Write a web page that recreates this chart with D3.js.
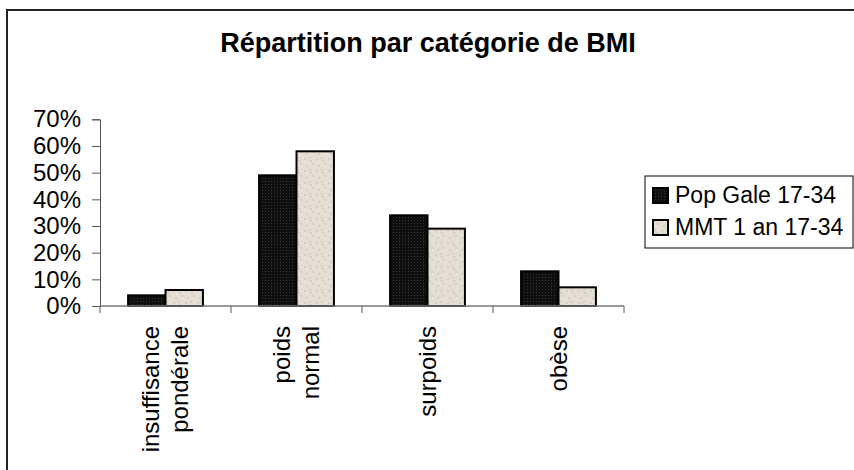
<!DOCTYPE html>
<html>
<head>
<meta charset="utf-8">
<script src="https://cdn.jsdelivr.net/npm/d3@7"></script>
<style>
  body { margin: 0; background: #fff; }
  svg { display: block; font-family: "Liberation Sans", Arial, sans-serif; }
</style>
</head>
<body>
<div id="container"></div>
<script>
// data
var categories = ["insuffisance\npondérale", "poids\nnormal", "surpoids", "obèse"];
var seriesNames = ["Pop Gale 17-34", "MMT 1 an 17-34"];
var popGale = [0.04, 0.49, 0.34, 0.13];
var mmt = [0.06, 0.58, 0.29, 0.07];
var yTicks = [0, 0.1, 0.2, 0.3, 0.4, 0.5, 0.6, 0.7];
var title = "Répartition par catégorie de BMI";

var width = 854, height = 470;
var plot = {left: 100, right: 624, top: 119.3, bottom: 306};

var svg = d3.select("#container").append("svg")
    .attr("width", width)
    .attr("height", height);

// textures for the two series
var defs = svg.append("defs");
var pDark = defs.append("pattern")
    .attr("id", "texDark")
    .attr("patternUnits", "userSpaceOnUse")
    .attr("width", 3).attr("height", 3);
pDark.append("rect").attr("width", 3).attr("height", 3).attr("fill", "#0e0e0e");
pDark.append("rect").attr("x", 1).attr("y", 1).attr("width", 1).attr("height", 1).attr("fill", "#363636");

var pLight = defs.append("pattern")
    .attr("id", "texLight")
    .attr("patternUnits", "userSpaceOnUse")
    .attr("width", 12).attr("height", 12);
pLight.append("rect").attr("width", 12).attr("height", 12).attr("fill", "#e4ded4");
[[1, 2], [6, 1], [9, 7], [3, 9], [7, 4]].forEach(function(p) {
    pLight.append("rect").attr("x", p[0]).attr("y", p[1])
        .attr("width", 2).attr("height", 2).attr("fill", "#d5cdc0");
});
[[4, 6], [10, 10]].forEach(function(p) {
    pLight.append("rect").attr("x", p[0]).attr("y", p[1])
        .attr("width", 1).attr("height", 1).attr("fill", "#f1ede6");
});

// outer chart border (runs off the right and bottom)
svg.append("rect")
    .attr("x", 7).attr("y", 10)
    .attr("width", 900).attr("height", 500)
    .attr("fill", "none")
    .attr("stroke", "#222")
    .attr("stroke-width", 2);

// title
svg.append("text")
    .attr("x", 428).attr("y", 52)
    .attr("text-anchor", "middle")
    .attr("font-size", 27)
    .attr("font-weight", "bold")
    .text(title);

// scales
var x0 = d3.scaleBand()
    .domain(categories)
    .range([plot.left, plot.right])
    .paddingInner(0).paddingOuter(0);

var x1 = d3.scaleBand()
    .domain(seriesNames)
    .range([0, x0.bandwidth()])
    .paddingInner(0).paddingOuter(0.75);

var yScale = d3.scaleLinear()
    .domain([0, 0.7])
    .range([plot.bottom, plot.top]);

var fills = {"Pop Gale 17-34": "url(#texDark)", "MMT 1 an 17-34": "url(#texLight)"};

var rows = categories.map(function(c, i) {
    return {cat: c, vals: [
        {s: seriesNames[0], v: popGale[i]},
        {s: seriesNames[1], v: mmt[i]}
    ]};
});

// bars
var groups = svg.selectAll(".grp")
    .data(rows)
    .enter().append("g")
    .attr("class", "grp")
    .attr("transform", function(d) { return "translate(" + x0(d.cat) + ",0)"; });

groups.selectAll("rect")
    .data(function(d) { return d.vals; })
    .enter().append("rect")
    .attr("x", function(d) { return x1(d.s); })
    .attr("y", function(d) { return yScale(d.v); })
    .attr("width", x1.bandwidth())
    .attr("height", function(d) { return plot.bottom - yScale(d.v); })
    .attr("fill", function(d) { return fills[d.s]; })
    .attr("stroke", "#000")
    .attr("stroke-width", 2);

// y axis
var yAxis = d3.axisLeft(yScale)
    .tickValues(yTicks)
    .tickFormat(d3.format(".0%"))
    .tickSize(8)
    .tickPadding(11);

var gy = svg.append("g")
    .attr("transform", "translate(" + plot.left + ",0)")
    .call(yAxis);
gy.select(".domain").attr("stroke", "#555");
gy.selectAll(".tick line").attr("stroke", "#555");
gy.selectAll(".tick text")
    .attr("font-size", 24)
    .attr("fill", "#000")
    .attr("font-family", "Liberation Sans, Arial, sans-serif");

// x axis: ticks at the band edges
var gx = svg.append("g");
gx.append("line")
    .attr("x1", plot.left).attr("x2", plot.right)
    .attr("y1", plot.bottom).attr("y2", plot.bottom)
    .attr("stroke", "#777").attr("stroke-width", 1.5);
var edges = categories.map(function(c) { return x0(c); }).concat([plot.right]);
gx.selectAll(".edge")
    .data(edges)
    .enter().append("line")
    .attr("class", "edge")
    .attr("x1", function(d) { return d; }).attr("x2", function(d) { return d; })
    .attr("y1", plot.bottom).attr("y2", plot.bottom + 7)
    .attr("stroke", "#555");

// rotated category labels
var lineGap = 29;
categories.forEach(function(c) {
    var lines = c.split("\n");
    var cx = x0(c) + x0.bandwidth() / 2 + 8;
    var t = svg.append("text")
        .attr("transform", "translate(" + cx + "," + (plot.bottom + 20) + ") rotate(-90)")
        .attr("text-anchor", "end")
        .attr("font-size", 24);
    lines.forEach(function(l, i) {
        t.append("tspan")
            .attr("x", 0)
            .attr("y", (i - (lines.length - 1) / 2) * lineGap)
            .text(l);
    });
});

// legend
var legend = svg.append("g");
legend.append("rect")
    .attr("x", 645).attr("y", 176)
    .attr("width", 208).attr("height", 72)
    .attr("fill", "#fff")
    .attr("stroke", "#000")
    .attr("stroke-width", 1);
seriesNames.forEach(function(s, i) {
    var yy = 188 + i * 32;
    legend.append("rect")
        .attr("x", 653).attr("y", yy)
        .attr("width", 15).attr("height", 15)
        .attr("fill", fills[s])
        .attr("stroke", "#000")
        .attr("stroke-width", 2);
    legend.append("text")
        .attr("x", 675).attr("y", yy + 15)
        .attr("font-size", 23)
        .text(s);
});
</script>
</body>
</html>
